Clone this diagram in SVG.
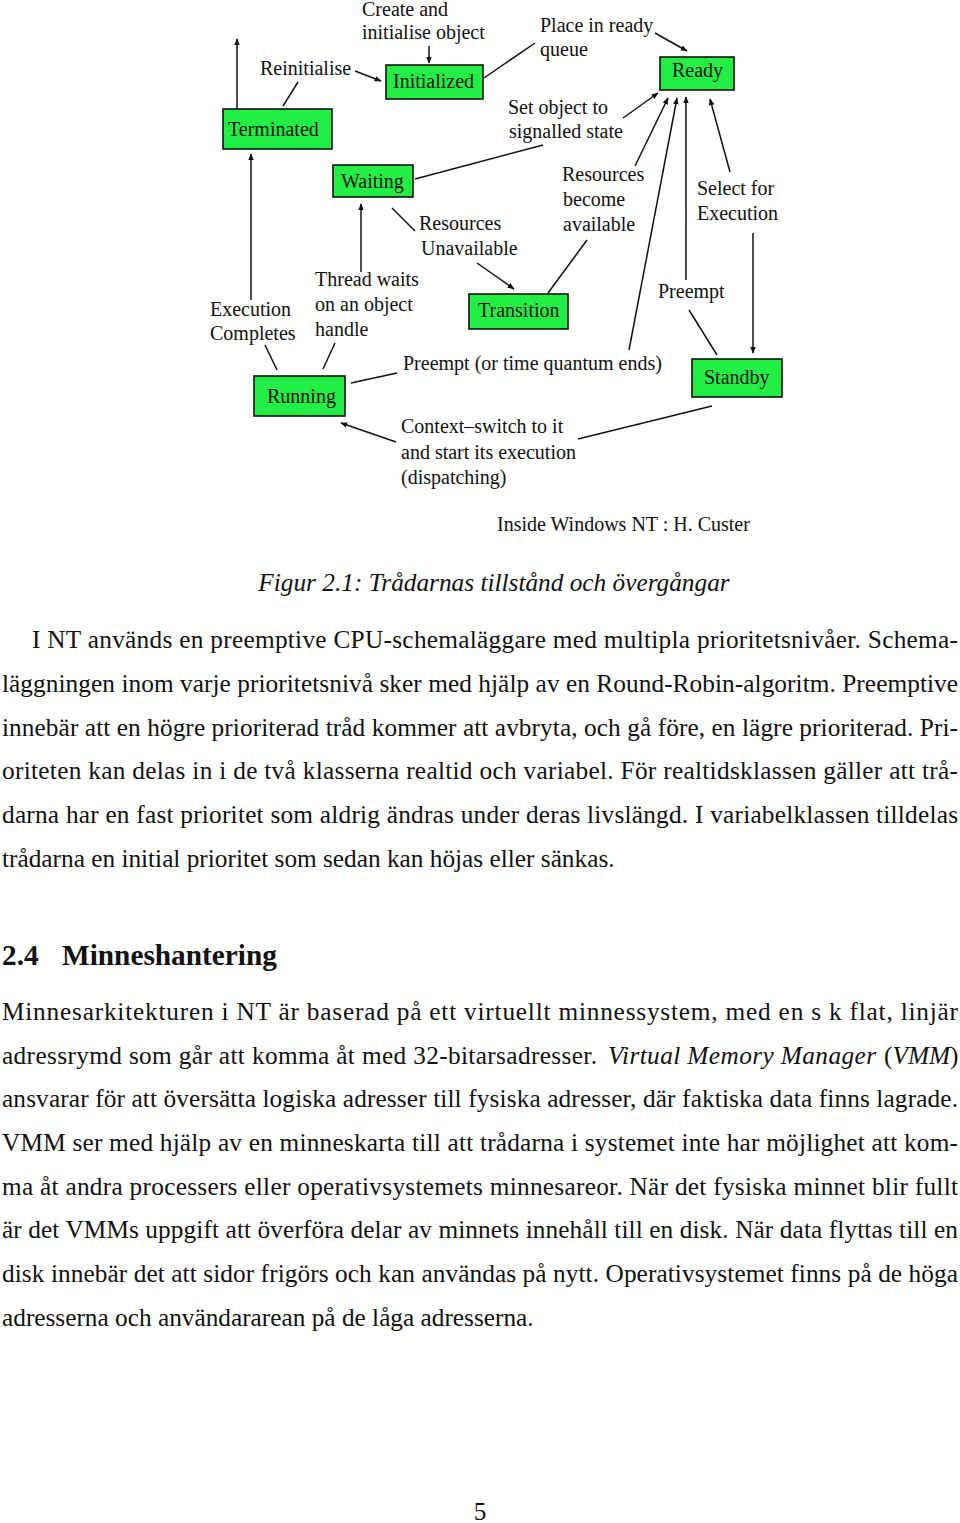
<svg xmlns="http://www.w3.org/2000/svg" width="960" height="1523" viewBox="0 0 960 1523">
<style>
.node rect{fill:#22ee44;stroke:#111;stroke-width:1.6}
.lbl{font-family:"Liberation Serif","Times New Roman",serif;font-size:20px;fill:#111}
.conn line{stroke:#111;stroke-width:1.5;fill:none}
.arr{marker-end:url(#ah)}
.body{font-family:"Liberation Serif","Times New Roman",serif;font-size:25.3px;fill:#111}
.it{font-style:italic}
.h{font-family:"Liberation Serif","Times New Roman",serif;font-size:29.3px;font-weight:bold;fill:#111}
</style>
<defs>
<marker id="ah" viewBox="0 0 10 10" refX="9" refY="5" markerWidth="7" markerHeight="7" markerUnits="userSpaceOnUse" orient="auto">
<path d="M0,1 L10,5 L0,9 Z" fill="#111"/>
</marker>
</defs>
<rect width="960" height="1523" fill="#fff"/>

<g id="nodes">
<g id="initialized" class="node"><rect x="386" y="65" width="97" height="34"/><text class="lbl" x="393" y="88">Initialized</text></g>
<g id="terminated" class="node"><rect x="223" y="109" width="109" height="40"/><text class="lbl" x="228" y="136">Terminated</text></g>
<g id="ready" class="node"><rect x="660" y="57" width="74" height="33"/><text class="lbl" x="672" y="77">Ready</text></g>
<g id="waiting" class="node"><rect x="333" y="165" width="80" height="32"/><text class="lbl" x="341" y="188">Waiting</text></g>
<g id="transition" class="node"><rect x="469" y="294" width="99" height="35"/><text class="lbl" x="478" y="317">Transition</text></g>
<g id="running" class="node"><rect x="254" y="376" width="91" height="40"/><text class="lbl" x="267" y="403">Running</text></g>
<g id="standby" class="node"><rect x="692" y="359" width="90" height="38"/><text class="lbl" x="704" y="384">Standby</text></g>
</g>

<g id="labels">
<text class="lbl" x="362" y="16">Create and</text>
<text class="lbl" x="362" y="39">initialise object</text>
<text class="lbl" x="260" y="75">Reinitialise</text>
<text class="lbl" x="540" y="32">Place in ready</text>
<text class="lbl" x="540" y="56">queue</text>
<text class="lbl" x="508" y="114">Set object to</text>
<text class="lbl" x="509" y="138">signalled state</text>
<text class="lbl" x="419" y="230">Resources</text>
<text class="lbl" x="421" y="255">Unavailable</text>
<text class="lbl" x="562" y="181">Resources</text>
<text class="lbl" x="563" y="206">become</text>
<text class="lbl" x="563" y="231">available</text>
<text class="lbl" x="697" y="195">Select for</text>
<text class="lbl" x="697" y="220">Execution</text>
<text class="lbl" x="315" y="286">Thread waits</text>
<text class="lbl" x="315" y="311">on an object</text>
<text class="lbl" x="315" y="336">handle</text>
<text class="lbl" x="210" y="316">Execution</text>
<text class="lbl" x="210" y="340">Completes</text>
<text class="lbl" x="658" y="298">Preempt</text>
<text class="lbl" x="403" y="370">Preempt (or time quantum ends)</text>
<text class="lbl" x="401" y="433">Context–switch to it</text>
<text class="lbl" x="401" y="459">and start its execution</text>
<text class="lbl" x="401" y="484">(dispatching)</text>
<text class="lbl" x="497" y="531">Inside Windows NT : H. Custer</text>
</g>

<g id="connectors" class="conn">
<line class="arr" x1="237" y1="109" x2="237" y2="39"/>
<line x1="283" y1="106" x2="298" y2="82"/>
<line class="arr" x1="355" y1="71" x2="381" y2="81"/>
<line class="arr" x1="429" y1="46" x2="429" y2="63"/>
<line x1="484" y1="78" x2="535" y2="43"/>
<line class="arr" x1="655" y1="33" x2="687" y2="51"/>
<line x1="415" y1="179" x2="543" y2="145"/>
<line class="arr" x1="623" y1="118" x2="658" y2="93"/>
<line class="arr" x1="635" y1="166" x2="668" y2="98"/>
<line x1="548" y1="293" x2="587" y2="240"/>
<line class="arr" x1="629" y1="350" x2="677" y2="98"/>
<line x1="351" y1="383" x2="397" y2="373"/>
<line class="arr" x1="686" y1="280" x2="686" y2="97"/>
<line x1="689" y1="310" x2="717" y2="355"/>
<line class="arr" x1="730" y1="172" x2="710" y2="99"/>
<line class="arr" x1="753" y1="233" x2="753" y2="353"/>
<line x1="712" y1="406" x2="578" y2="439"/>
<line class="arr" x1="396" y1="442" x2="341" y2="423"/>
<line class="arr" x1="251" y1="300" x2="251" y2="154"/>
<line x1="265" y1="345" x2="277" y2="370"/>
<line class="arr" x1="361" y1="272" x2="361" y2="204"/>
<line x1="335" y1="343" x2="323" y2="369"/>
<line x1="392" y1="208" x2="415" y2="231"/>
<line class="arr" x1="477" y1="263" x2="514" y2="289"/>
</g>

<g id="caption">
<text class="body it" x="494" y="591" text-anchor="middle">Figur 2.1: Trådarnas tillstånd och övergångar</text>
</g>

<g id="para1">
<text class="body" x="32" y="648" textLength="926" lengthAdjust="spacing">I NT används en preemptive CPU-schemaläggare med multipla prioritetsnivåer. Schema-</text>
<text class="body" x="2" y="692" textLength="956" lengthAdjust="spacing">läggningen inom varje prioritetsnivå sker med hjälp av en Round-Robin-algoritm. Preemptive</text>
<text class="body" x="2" y="736" textLength="956" lengthAdjust="spacing">innebär att en högre prioriterad tråd kommer att avbryta, och gå före, en lägre prioriterad. Pri-</text>
<text class="body" x="2" y="779" textLength="956" lengthAdjust="spacing">oriteten kan delas in i de två klasserna realtid och variabel. För realtidsklassen gäller att trå-</text>
<text class="body" x="2" y="823" textLength="956" lengthAdjust="spacing">darna har en fast prioritet som aldrig ändras under deras livslängd. I variabelklassen tilldelas</text>
<text class="body" x="2" y="867">trådarna en initial prioritet som sedan kan höjas eller sänkas.</text>
</g>

<g id="heading">
<text class="h" x="2" y="965">2.4</text>
<text class="h" x="62" y="965">Minneshantering</text>
</g>

<g id="para2">
<text class="body" x="2" y="1020" textLength="956" lengthAdjust="spacing">Minnesarkitekturen i NT är baserad på ett virtuellt minnessystem, med en s k flat, linjär</text>
<text class="body" x="2" y="1064" textLength="595" lengthAdjust="spacing">adressrymd som går att komma åt med 32-bitarsadresser.</text>
<text class="body it" x="608" y="1064" textLength="268" lengthAdjust="spacing">Virtual Memory Manager</text>
<text class="body" x="884" y="1064">(<tspan class="it">VMM</tspan>)</text>
<text class="body" x="2" y="1107" textLength="956" lengthAdjust="spacing">ansvarar för att översätta logiska adresser till fysiska adresser, där faktiska data finns lagrade.</text>
<text class="body" x="2" y="1151" textLength="956" lengthAdjust="spacing">VMM ser med hjälp av en minneskarta till att trådarna i systemet inte har möjlighet att kom-</text>
<text class="body" x="2" y="1195" textLength="956" lengthAdjust="spacing">ma åt andra processers eller operativsystemets minnesareor. När det fysiska minnet blir fullt</text>
<text class="body" x="2" y="1238" textLength="956" lengthAdjust="spacing">är det VMMs uppgift att överföra delar av minnets innehåll till en disk. När data flyttas till en</text>
<text class="body" x="2" y="1282" textLength="956" lengthAdjust="spacing">disk innebär det att sidor frigörs och kan användas på nytt. Operativsystemet finns på de höga</text>
<text class="body" x="2" y="1326">adresserna och användararean på de låga adresserna.</text>
</g>

<g id="footer">
<text class="body" x="480" y="1520" text-anchor="middle">5</text>
</g>
</svg>
